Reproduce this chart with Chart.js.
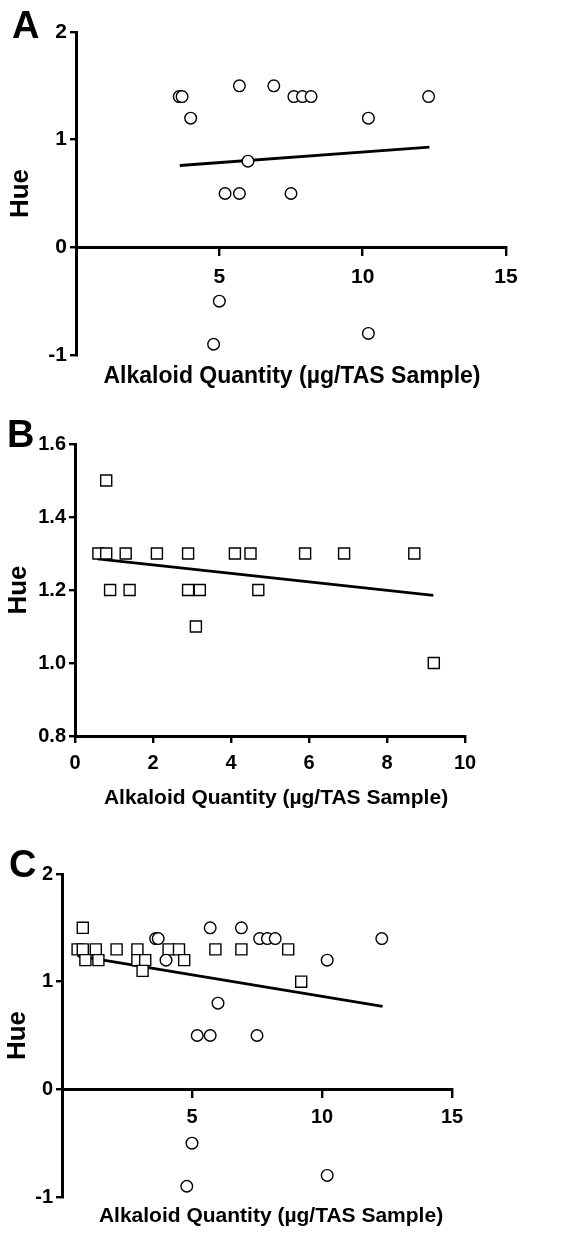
<!DOCTYPE html>
<html><head><meta charset="utf-8">
<script src="https://cdn.jsdelivr.net/npm/chart.js@4.4.1/dist/chart.umd.min.js"></script>
<style>
html,body{margin:0;padding:0;background:#fff;}
body{width:587px;height:1234px;position:relative;overflow:hidden;font-family:"Liberation Sans",Arial,sans-serif;color:#000;}
.panel{position:absolute;left:0;}
.letter{position:absolute;font-weight:bold;font-size:38px;line-height:1;}
.xt{position:absolute;font-weight:bold;white-space:nowrap;line-height:1;transform:translateX(-50%);}
</style></head><body>
<div class="panel" style="top:0"><canvas id="cA" width="587" height="400"></canvas></div>
<div class="panel" style="top:400px"><canvas id="cB" width="587" height="430"></canvas></div>
<div class="panel" style="top:830px"><canvas id="cC" width="587" height="404"></canvas></div>
<div class="letter" style="left:12px;top:6px">A</div>
<div class="letter" style="left:7px;top:415px">B</div>
<div class="letter" style="left:9px;top:845px">C</div>
<div class="xt" style="left:292px;top:364px;font-size:23px">Alkaloid Quantity (µg/TAS Sample)</div>
<div class="xt" style="left:276px;top:786px;font-size:21px">Alkaloid Quantity (µg/TAS Sample)</div>
<div class="xt" style="left:271px;top:1204px;font-size:21px">Alkaloid Quantity (µg/TAS Sample)</div>
<script>
// Panel A: circles
const circleX = [3.6, 3.7, 4.0, 5.7, 6.9, 7.6, 7.9, 8.2, 10.2, 12.3, 6.0, 5.2, 5.7, 7.5, 5.0, 4.8, 10.2];
const circleY = [1.4, 1.4, 1.2, 1.5, 1.5, 1.4, 1.4, 1.4, 1.2, 1.4, 0.8, 0.5, 0.5, 0.5, -0.5, -0.9, -0.8];
// Panel B: squares
const squareX = [0.8, 0.6, 0.8, 1.3, 2.1, 2.9, 4.1, 4.5, 5.9, 6.9, 8.7, 0.9, 1.4, 2.9, 3.2, 4.7, 3.1, 9.2];
const squareY = [1.5, 1.3, 1.3, 1.3, 1.3, 1.3, 1.3, 1.3, 1.3, 1.3, 1.3, 1.2, 1.2, 1.2, 1.2, 1.2, 1.1, 1.0];
// Fitted regression lines (end points)
const fitAX = [3.62, 12.33];
const fitAY = [0.76, 0.93];
const fitBX = [0.58, 9.19];
const fitBY = [1.285, 1.185];
const fitCX = [0.6, 12.33];
const fitCY = [1.24, 0.77];
// Axis ticks
const ticksA_X = [5, 10, 15];
const ticksB_X = [0, 2, 4, 6, 8, 10];
const ticksA_Y = [-1, 0, 1, 2];
const ticksB_Y = [0.8, 1.0, 1.2, 1.4, 1.6];

const pts = (xs, ys) => xs.map((x, i) => ({x: x, y: ys[i]}));
const FONT = '"Liberation Sans", Arial, sans-serif';

function circleDs(){ return {type:'scatter', data: pts(circleX, circleY), pointStyle:'circle', pointRadius:5.8, borderColor:'#000', backgroundColor:'#fff', borderWidth:1.4, clip:false, order:1}; }
function squareDs(){ return {type:'scatter', data: pts(squareX, squareY), pointStyle:'rect', pointRadius:7.8, borderColor:'#000', backgroundColor:'#fff', borderWidth:1.4, clip:false, order:1}; }
function fitDs(xs, ys){ return {type:'line', data: pts(xs, ys), showLine:true, borderColor:'#000', borderWidth:2.8, pointRadius:0, fill:false, clip:false, order:2}; }

function build(id, o){
  Chart.defaults.font.family = FONT;
  return new Chart(document.getElementById(id), {
    type:'scatter',
    data:{datasets:o.datasets},
    options:{
      responsive:false, animation:false, devicePixelRatio:1,
      layout:{padding:{left:0, top:o.top, right:587 - o.right, bottom:o.padBottom}},
      plugins:{legend:{display:false}, tooltip:{enabled:false}},
      scales:{
        x:{type:'linear', min:o.xMin, max:o.xMax,
           position: o.xAtZero ? {y:0} : 'bottom',
           afterBuildTicks: s => { s.ticks = o.xTicks.map(v => ({value:v})); },
           afterFit: s => { if(!o.xAtZero) s.height = o.xHeight; },
           ticks:{color:'#000', padding:o.xTickPad, maxRotation:0, autoSkip:false,
                  font:{family:FONT, size:o.tickSize, weight:'bold'},
                  callback: v => String(v)},
           grid:{drawOnChartArea:false, drawTicks:true, tickLength:7, color:'#000', lineWidth:2.4},
           border:{display:true, color:'#000', width:3}},
        y:{type:'linear', min:o.yMin, max:o.yMax,
           afterBuildTicks: s => { s.ticks = o.yTicks.map(v => ({value:v})); },
           afterFit: s => { s.width = o.left; },
           ticks:{color:'#000', padding:3, autoSkip:false,
                  font:{family:FONT, size:o.tickSize, weight:'bold'},
                  callback: v => o.yDec ? Number(v).toFixed(o.yDec) : String(v)},
           grid:{drawOnChartArea:false, drawTicks:true, tickLength:6, color:'#000', lineWidth:2.4},
           border:{display:true, color:'#000', width:3},
           title:{display:true, text:'Hue', color:'#000', padding:{top:o.huePad, bottom:0},
                  font:{family:FONT, size:26, weight:'bold'}}}
      }
    }
  });
}

build('cA', {datasets:[circleDs(), fitDs(fitAX, fitAY)],
  left:76, top:32, right:506, padBottom:400-355, xAtZero:true,
  xMin:0, xMax:15, yMin:-1, yMax:2, xTicks:ticksA_X, yTicks:ticksA_Y,
  tickSize:21, xTickPad:10, huePad:5});

build('cB', {datasets:[squareDs(), fitDs(fitBX, fitBY)],
  left:75, top:44, right:465, padBottom:430-336-40, xHeight:40, xAtZero:false,
  xMin:0, xMax:10, yMin:0.8, yMax:1.6, xTicks:ticksB_X, yTicks:ticksB_Y, yDec:1,
  tickSize:20, xTickPad:8, huePad:3});

build('cC', {datasets:[circleDs(), squareDs(), fitDs(fitCX, fitCY)],
  left:62, top:44, right:452, padBottom:404-367, xAtZero:true,
  xMin:0, xMax:15, yMin:-1, yMax:2, xTicks:ticksA_X, yTicks:ticksA_Y,
  tickSize:20, xTickPad:9, huePad:2});
</script>
</body></html>
